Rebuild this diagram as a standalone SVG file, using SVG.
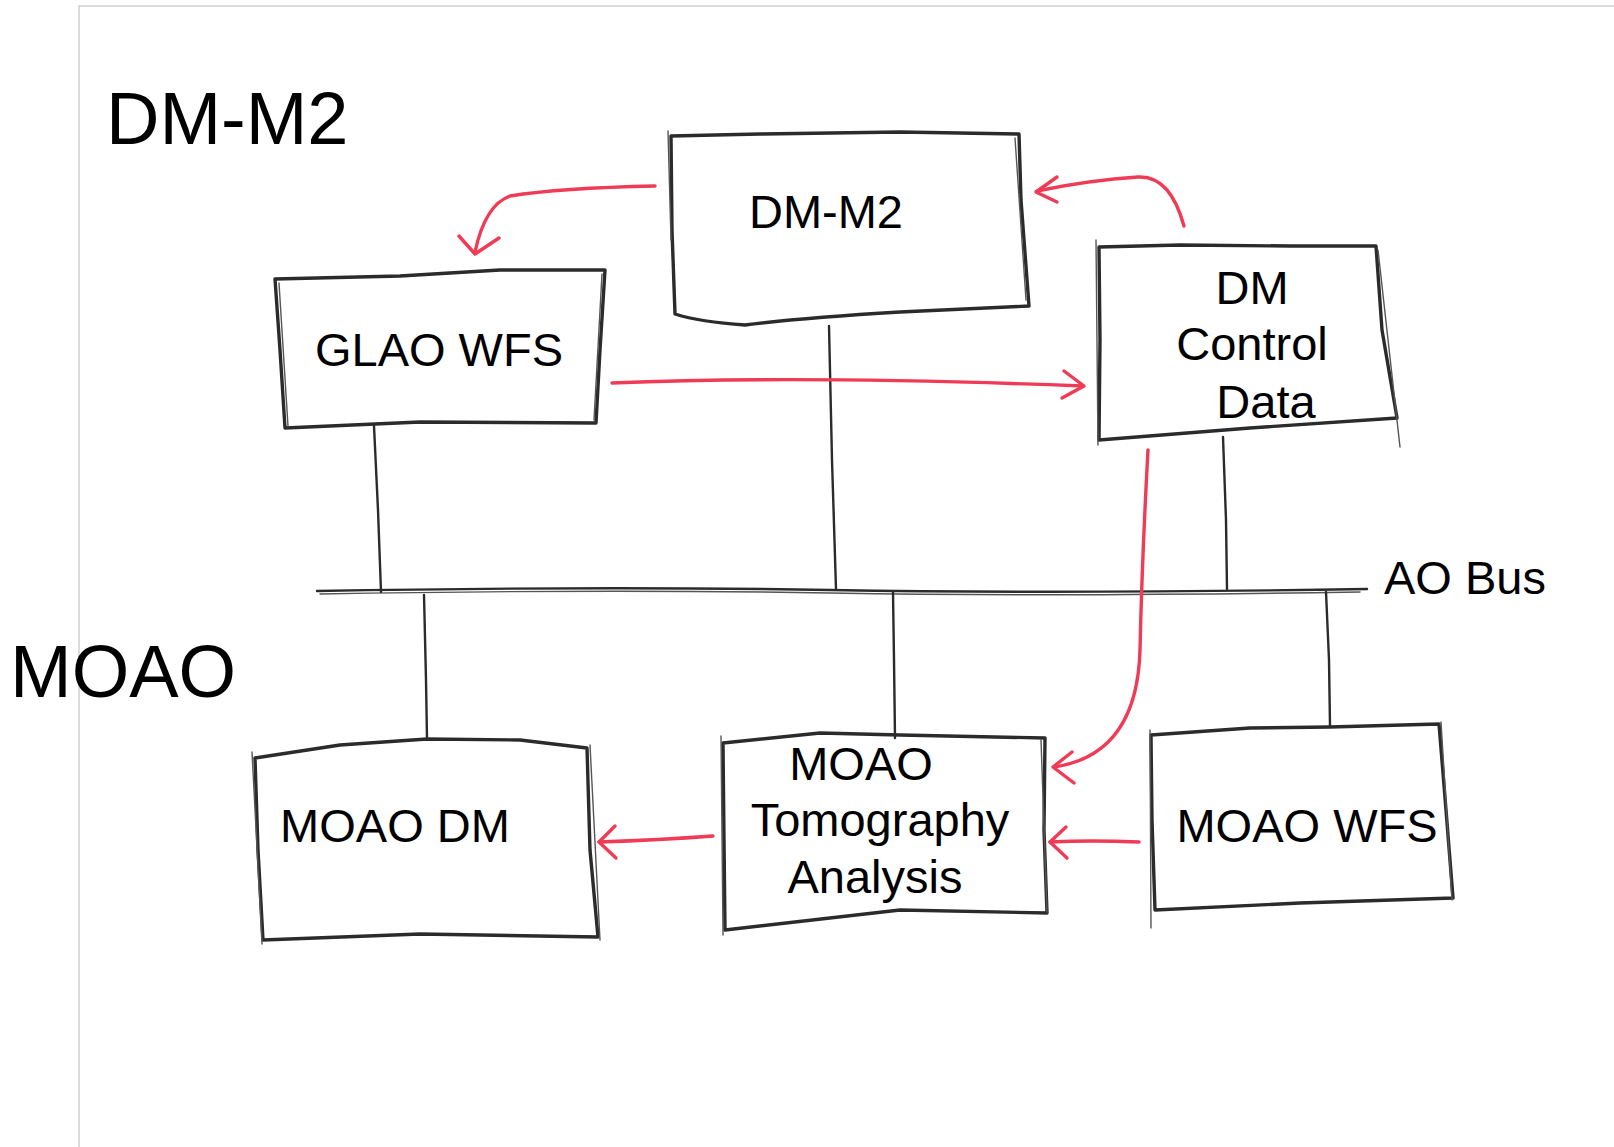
<svg xmlns="http://www.w3.org/2000/svg" width="1614" height="1147" viewBox="0 0 1614 1147">
<defs>
<style>
.box{fill:none;stroke:#2b2b2b;stroke-width:3.4;stroke-linejoin:round;stroke-linecap:round}
.box2{fill:none;stroke:#555;stroke-width:1.4;stroke-linecap:round}
.wire{fill:none;stroke:#2b2b2b;stroke-width:2.4;stroke-linecap:round}
.red{fill:none;stroke:#ef3b56;stroke-width:3.4;stroke-linecap:round;stroke-linejoin:round}
.t{font-family:"Liberation Sans",Arial,sans-serif;fill:#000}
.lbl{font-size:47px}
.big{font-size:74px}
</style>
</defs>
<rect width="1614" height="1147" fill="#fff"/>
<path d="M79 1147 V6 H1614" fill="none" stroke="#cfcfcf" stroke-width="1.5"/>
<text class="t big" x="106" y="144">DM-M2</text>
<text class="t big" x="10" y="697">MOAO</text>
<g id="connectors">
<path class="wire" d="M317 591 Q600 586 830 590 T1367 589"/>
<path class="box2" d="M320 594 Q600 589 830 593 T1360 592"/>
<path class="wire" d="M374 426 L378 510 L381 592"/>
<path class="wire" d="M829 326 L832 460 L836 589"/>
<path class="wire" d="M1223 437 L1226 520 L1227 589"/>
<path class="wire" d="M424 595 L426 680 L427 739"/>
<path class="wire" d="M893 592 L894 660 L895 738"/>
<path class="wire" d="M1326 592 L1329 660 L1330 726"/>
<path class="red" d="M655 186 Q560 188 510 196 Q485 205 475 252"/>
<path class="red" d="M459 236 L475 254 L499 238"/>
<path class="red" d="M1184 226 Q1170 175 1138 177 Q1090 180 1037 191"/>
<path class="red" d="M1057 177 L1036 192 L1057 202"/>
<path class="red" d="M612 383 Q800 375 1083 386"/>
<path class="red" d="M1064 371 L1084 386 L1062 398"/>
<path class="red" d="M1148 450 Q1142 560 1140 650 Q1137 755 1054 767"/>
<path class="red" d="M1072 752 L1053 767 L1074 783"/>
<path class="red" d="M713 836 Q660 840 599 842"/>
<path class="red" d="M615 826 L599 842 L616 858"/>
<path class="red" d="M1139 842 Q1090 840 1050 842"/>
<path class="red" d="M1066 827 L1050 842 L1067 858"/>
</g>
<g id="node-dm-m2">
<path class="box" d="M671 136 L760 134 L900 132 L1019 134 L1021 200 L1029 306 L900 312 Q800 318 745 325 Q700 322 675 314 L672 230 Z"/>
<path class="box2" d="M668 131 L671 240 M1015 138 L1026 300"/>
<text class="t lbl" x="826" y="228" text-anchor="middle">DM-M2</text>
</g>
<g id="node-glao-wfs">
<path class="box" d="M275 279 L400 276 L500 270 L605 270 L600 350 L596 423 L420 422 L285 428 L280 350 Z"/>
<path class="box2" d="M279 283 L288 426 M602 274 L594 420"/>
<text class="t lbl" x="439" y="366" text-anchor="middle">GLAO WFS</text>
</g>
<g id="node-dm-control-data">
<path class="box" d="M1099 247 L1180 245 L1290 246 L1376 246 L1382 330 L1397 418 L1250 428 L1099 440 L1100 340 Z"/>
<path class="box2" d="M1096 240 L1098 445 M1378 250 L1400 447"/>
<text class="t lbl" x="1252" y="304" text-anchor="middle">DM</text>
<text class="t lbl" x="1252" y="360" text-anchor="middle">Control</text>
<text class="t lbl" x="1266" y="418" text-anchor="middle">Data</text>
</g>
<g id="node-moao-dm">
<path class="box" d="M255 758 L340 745 L427 739 L520 740 L587 748 L590 850 L598 937 L420 934 L263 940 L258 850 Z"/>
<path class="box2" d="M252 752 L262 944 M590 745 L600 940"/>
<text class="t lbl" x="395" y="842" text-anchor="middle">MOAO DM</text>
</g>
<g id="node-moao-tomography">
<path class="box" d="M723 743 L820 733 L900 735 L1045 738 L1044 830 L1047 913 L900 910 L725 930 L724 840 Z"/>
<path class="box2" d="M721 736 L723 935 M1041 740 L1047 912"/>
<text class="t lbl" x="861" y="780" text-anchor="middle">MOAO</text>
<text class="t lbl" x="880" y="836" text-anchor="middle">Tomography</text>
<text class="t lbl" x="875" y="893" text-anchor="middle">Analysis</text>
</g>
<g id="node-moao-wfs">
<path class="box" d="M1151 735 L1250 728 L1330 727 L1439 724 L1446 810 L1453 898 L1300 903 L1155 910 L1152 820 Z"/>
<path class="box2" d="M1150 730 L1151 928 M1441 722 L1452 900"/>
<text class="t lbl" x="1307" y="842" text-anchor="middle">MOAO WFS</text>
</g>
<text class="t lbl" x="1384" y="594">AO Bus</text>
</svg>
